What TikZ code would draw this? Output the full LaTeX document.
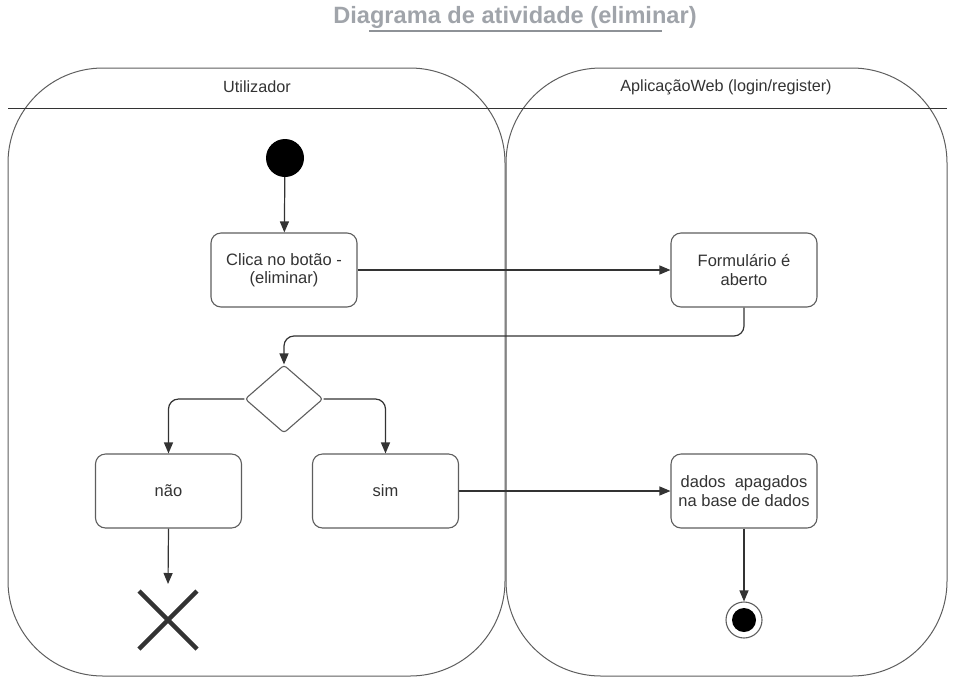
\documentclass[tikz,border=0pt]{standalone}
\usepackage{fontspec}
\setmainfont{Liberation Sans}
\usetikzlibrary{arrows.meta,shapes.geometric,calc}
\definecolor{ink}{HTML}{333333}
\definecolor{edge}{HTML}{5E5E5E}
\definecolor{titlegray}{HTML}{A0A4AA}
\definecolor{rulegray}{HTML}{8E9297}
\tikzset{
  lane/.style={draw=edge, line width=1pt, rounded corners=95pt},
  act/.style={draw=edge, line width=1.1pt, rounded corners=10pt, fill=white,
    minimum width=146pt, minimum height=74pt, inner sep=2pt, align=center,
    text=ink, font=\fontsize{16.5}{18.5}\selectfont},
  choice/.style={draw=edge, line width=1.1pt, diamond, rounded corners=3pt,
    minimum width=78pt, minimum height=68pt, inner sep=0pt, fill=white},
  flow/.style={draw=ink, line width=1.2pt, rounded corners=10pt,
    -{Triangle[length=11pt,width=9pt]}},
  lanelabel/.style={text=ink, font=\fontsize{16.2}{19}\selectfont},
}
\begin{document}
\begin{tikzpicture}[x=1pt,y=-1pt]
\useasboundingbox (0,0) rectangle (960,689);

% title
\node[font=\bfseries\fontsize{23.6}{27}\selectfont, text=titlegray] (title) at (515,17) {Diagrama de atividade (eliminar)};
\draw[rulegray, line width=2pt] (369,31) -- (662,31);

% swimlanes
\draw[lane] (8,68) rectangle (505,676);
\draw[lane] (506,68) rectangle (947,676);
\draw[ink, line width=1pt] (8,108) -- (947,108);
\node[lanelabel] (l1) at (257,87) {Utilizador};
\node[lanelabel] (l2) at (726,87) {AplicaçãoWeb (login/register)};

% nodes
\node[circle, fill=black, minimum size=38pt, inner sep=0pt] (start) at (285,158) {};
\node[act] (clica) at (284,270) {Clica no botão -\\(eliminar)};
\node[act] (form) at (744,270) {Formulário é\\aberto};
\node[choice] (dec) at (284,399) {};
\node[act] (nao) at (168.5,491) {não};
\node[act] (sim) at (385.5,491) {sim};
\node[act] (dados) at (744,491) {dados\ \ apagados\\na base de dados};
\coordinate (xc) at (168,620);
\coordinate (xtop) at (168,584);
\node[circle, draw=edge, line width=1.1pt, minimum size=36pt, inner sep=0pt] (fim) at (744,620) {};
\node[circle, fill=black, minimum size=24pt, inner sep=0pt] (fimin) at (744,620) {};

% termination cross
\draw[ink, line width=4.5pt] ($(xc)+(-29,-29)$) -- ($(xc)+(29,29)$);
\draw[ink, line width=4.5pt] ($(xc)+(-29,29)$) -- ($(xc)+(29,-29)$);

% connectors
\draw[flow] (start) -- (clica);
\draw[flow] (clica) -- (form);
\draw[flow] (form.south) -- (form.south |- 0,336) -| (dec.north);
\draw[flow] (dec.west) -| (nao.north);
\draw[flow] (dec.east) -| (sim.north);
\draw[flow] (sim) -- (dados);
\draw[flow] (nao.south) -- (xtop);
\draw[flow] (dados.south) -- (fim.north);
\end{tikzpicture}
\end{document}
